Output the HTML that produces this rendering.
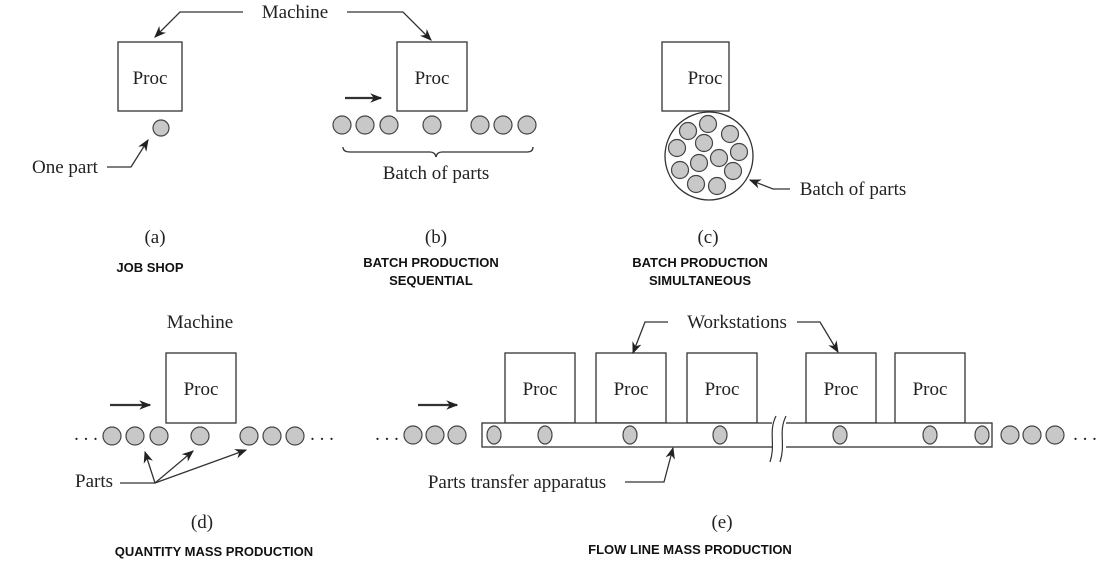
<!DOCTYPE html>
<html><head><meta charset="utf-8"><style>
html,body{margin:0;padding:0;background:#fff;width:1118px;height:563px;overflow:hidden}
.s{font-family:"Liberation Serif",serif;font-size:19px;fill:#222}
.b{font-family:"Liberation Sans",sans-serif;font-size:13px;font-weight:bold;fill:#111}
</style></head><body>
<svg width="1118" height="563" viewBox="0 0 1118 563" xmlns="http://www.w3.org/2000/svg">
<defs>
<marker id="ah" viewBox="0 0 10 10" refX="9" refY="5" markerWidth="12" markerHeight="12" orient="auto" markerUnits="userSpaceOnUse"><path d="M0,1 L10,5 L0,9 L3,5 Z" fill="#222"/></marker>
</defs>
<g stroke="#333" stroke-width="1.3" fill="none">
<rect x="118" y="42" width="64" height="69" fill="#fff"/>
<rect x="397" y="42" width="70" height="69" fill="#fff"/>
<rect x="662" y="42" width="67" height="69" fill="#fff"/>
<circle cx="709" cy="156" r="44" fill="#fff"/>
<rect x="166" y="353" width="70" height="70" fill="#fff"/>
<rect x="505" y="353" width="70" height="70" fill="#fff"/>
<rect x="596" y="353" width="70" height="70" fill="#fff"/>
<rect x="687" y="353" width="70" height="70" fill="#fff"/>
<rect x="806" y="353" width="70" height="70" fill="#fff"/>
<rect x="895" y="353" width="70" height="70" fill="#fff"/>
<rect x="482" y="423" width="510" height="24" fill="#fff"/>
</g>
<rect x="772" y="420" width="14" height="30" fill="#fff"/>
<path d="M776,416 C768,432 776,444 770,462 M786,416 C778,432 786,444 780,462" stroke="#333" stroke-width="1.2" fill="none"/>
<g fill="#c8c8c8" stroke="#444" stroke-width="1.2">
<circle cx="161" cy="128" r="8"/>
<circle cx="342" cy="125" r="9"/><circle cx="365" cy="125" r="9"/><circle cx="389" cy="125" r="9"/>
<circle cx="432" cy="125" r="9"/><circle cx="480" cy="125" r="9"/><circle cx="503" cy="125" r="9"/><circle cx="527" cy="125" r="9"/>
<circle cx="688" cy="131" r="8.5"/><circle cx="708" cy="124" r="8.5"/><circle cx="730" cy="134" r="8.5"/>
<circle cx="677" cy="148" r="8.5"/><circle cx="704" cy="143" r="8.5"/><circle cx="739" cy="152" r="8.5"/>
<circle cx="719" cy="158" r="8.5"/><circle cx="699" cy="163" r="8.5"/><circle cx="680" cy="170" r="8.5"/>
<circle cx="733" cy="171" r="8.5"/><circle cx="696" cy="184" r="8.5"/><circle cx="717" cy="186" r="8.5"/>
<circle cx="112" cy="436" r="9"/><circle cx="135" cy="436" r="9"/><circle cx="159" cy="436" r="9"/>
<circle cx="200" cy="436" r="9"/><circle cx="249" cy="436" r="9"/><circle cx="272" cy="436" r="9"/><circle cx="295" cy="436" r="9"/>
<circle cx="413" cy="435" r="9"/><circle cx="435" cy="435" r="9"/><circle cx="457" cy="435" r="9"/>
<circle cx="1010" cy="435" r="9"/><circle cx="1032" cy="435" r="9"/><circle cx="1055" cy="435" r="9"/>
<ellipse cx="494" cy="435" rx="7" ry="9"/><ellipse cx="545" cy="435" rx="7" ry="9"/><ellipse cx="630" cy="435" rx="7" ry="9"/>
<ellipse cx="720" cy="435" rx="7" ry="9"/><ellipse cx="840" cy="435" rx="7" ry="9"/><ellipse cx="930" cy="435" rx="7" ry="9"/><ellipse cx="982" cy="435" rx="7" ry="9"/>
</g>
<g stroke="#333" stroke-width="1.3" fill="none">
<path d="M243,12 H180 L155,37" marker-end="url(#ah)"/>
<path d="M347,12 H403 L431,40" marker-end="url(#ah)"/>
<path d="M107,167 H131 L148,140" marker-end="url(#ah)"/>
<path d="M345,98 H381" stroke-width="2.2" marker-end="url(#ah)"/>
<path d="M343,147 Q343,152 350,152 H430 Q435,152 436,157 Q437,152 442,152 H527 Q533,152 533,147"/>
<path d="M790,189 H773 L750,180" marker-end="url(#ah)"/>
<path d="M110,405 H150" stroke-width="2.2" marker-end="url(#ah)"/>
<path d="M120,483 H155 L145,452" marker-end="url(#ah)"/>
<path d="M155,483 L193,451" marker-end="url(#ah)"/>
<path d="M155,483 L246,450" marker-end="url(#ah)"/>
<path d="M418,405 H457" stroke-width="2.2" marker-end="url(#ah)"/>
<path d="M668,322 H645 L633,353" marker-end="url(#ah)"/>
<path d="M797,322 H820 L838,352" marker-end="url(#ah)"/>
<path d="M625,482 H664 L673,448" marker-end="url(#ah)"/>
</g>
<g class="s" text-anchor="middle">
<text x="295" y="18">Machine</text>
<text x="150" y="84">Proc</text>
<text x="432" y="84">Proc</text>
<text x="705" y="84">Proc</text>
<text x="65" y="173">One part</text>
<text x="436" y="179">Batch of parts</text>
<text x="853" y="195">Batch of parts</text>
<text x="155" y="243">(a)</text>
<text x="436" y="243">(b)</text>
<text x="708" y="243">(c)</text>
<text x="200" y="328">Machine</text>
<text x="201" y="395">Proc</text>
<text x="540" y="395">Proc</text>
<text x="631" y="395">Proc</text>
<text x="722" y="395">Proc</text>
<text x="841" y="395">Proc</text>
<text x="930" y="395">Proc</text>
<text x="737" y="328">Workstations</text>
<text x="94" y="487">Parts</text>
<text x="517" y="488">Parts transfer apparatus</text>
<text x="202" y="528">(d)</text>
<text x="722" y="528">(e)</text>
<text x="86" y="440">. . .</text>
<text x="322" y="440">. . .</text>
<text x="387" y="440">. . .</text>
<text x="1085" y="440">. . .</text>
</g>
<g class="b" text-anchor="middle">
<text x="150" y="272">JOB SHOP</text>
<text x="431" y="267">BATCH PRODUCTION</text>
<text x="431" y="285">SEQUENTIAL</text>
<text x="700" y="267">BATCH PRODUCTION</text>
<text x="700" y="285">SIMULTANEOUS</text>
<text x="214" y="556">QUANTITY MASS PRODUCTION</text>
<text x="690" y="554">FLOW LINE MASS PRODUCTION</text>
</g>
</svg>
</body></html>
